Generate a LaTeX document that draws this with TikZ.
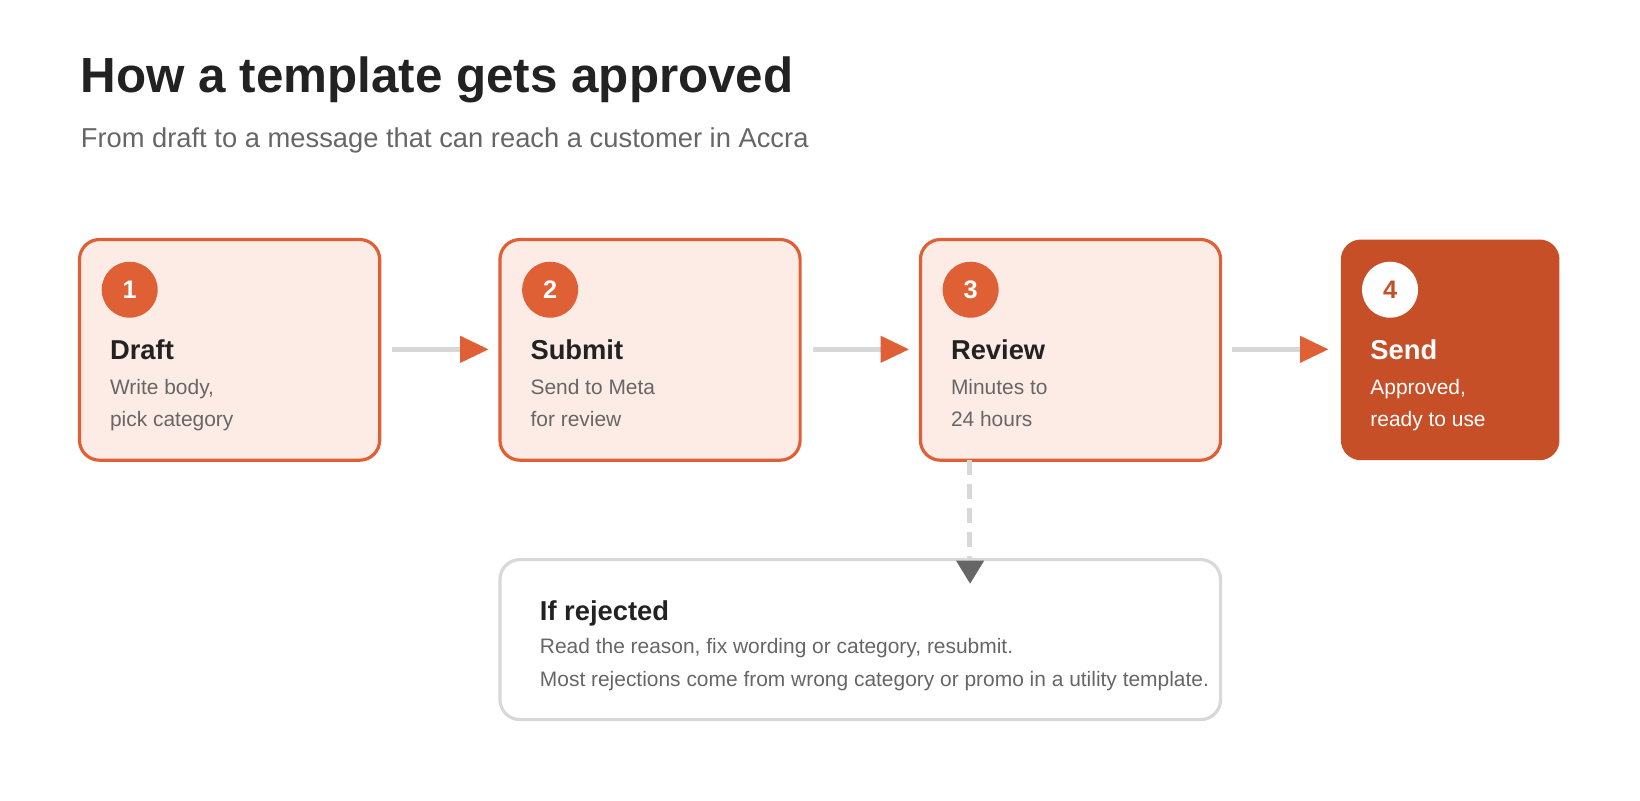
\documentclass[tikz,border=0pt]{standalone}
\usepackage{fontspec}
\setmainfont{Liberation Sans}
\definecolor{org}{HTML}{E06035}
\definecolor{pale}{HTML}{FDECE6}
\definecolor{dark}{HTML}{C64F27}
\definecolor{ink}{HTML}{222222}
\definecolor{mute}{HTML}{666666}
\definecolor{lgray}{HTML}{D8D8D8}
\begin{document}
\begin{tikzpicture}[x=0.7844pt,y=-0.7844pt,
 stepbox/.style={draw=org,line width=2.4pt,fill=pale,rounded corners=15pt},
 num/.style={circle,fill=org,text=white,minimum size=42pt,inner sep=0,font=\fontsize{19}{19}\selectfont\bfseries},
 ttl/.style={anchor=base west,inner sep=0,text=ink,font=\fontsize{20.5}{20}\selectfont\bfseries},
 bod/.style={anchor=north west,inner sep=0,text=mute,align=left,font=\fontsize{15.7}{24.5}\selectfont},
 conn/.style={draw=lgray,line width=4pt}]
\useasboundingbox (0,0) rectangle (1568,765);
\node[anchor=base west,inner sep=0,text=ink,font=\fontsize{37}{37}\selectfont\bfseries] (title) at (77,88) {How a template gets approved};
\node[anchor=base west,inner sep=0,text=mute,font=\fontsize{20.5}{20}\selectfont] (sub) at (77,141) {From draft to a message that can reach a customer in Accra};
% boxes
\draw[stepbox] (76,229) rectangle (363,440);
\node[num] (n1) at (124,277) {1};
\node[ttl] (t1) at (105,344) {Draft};
\node[bod] (b1) at (105,362) {Write body,\\pick category};
\draw[stepbox] (478,229) rectangle (765,440);
\node[num] (n2) at (526,277) {2};
\node[ttl] (t2) at (507,344) {Submit};
\node[bod] (b2) at (507,362) {Send to Meta\\for review};
\draw[stepbox] (880,229) rectangle (1167,440);
\node[num] (n3) at (928,277) {3};
\node[ttl] (t3) at (909,344) {Review};
\node[bod] (b3) at (909,362) {Minutes to\\24 hours};
\fill[dark,rounded corners=15pt] (1282,229) rectangle (1491,440);
\node[num,fill=white,text=dark] (n4) at (1329,277) {4};
\node[ttl,text=white] (t4) at (1310,344) {Send};
\node[bod,text=white] (b4) at (1310,362) {Approved,\\ready to use};
% arrows
\foreach \x in {375,777,1178}{
 \draw[conn] (\x,334) -- (\x+66,334);
 \fill[org] (\x+65,321) -- (\x+92,334) -- (\x+65,347) -- cycle;
}
% reject
\draw[draw=lgray,line width=2.4pt,rounded corners=15pt] (478,535) rectangle (1167,688);
\draw[conn,dash pattern=on 11pt off 7pt] (927,440) -- (927,536);
\fill[mute] (914,536) -- (941,536) -- (927.5,558) -- cycle;
\node[ttl] (rt) at (516,593) {If rejected};
\node[bod] (rb) at (516,610) {Read the reason, fix wording or category, resubmit.\\Most rejections come from wrong category or promo in a utility template.};
\end{tikzpicture}
\end{document}
